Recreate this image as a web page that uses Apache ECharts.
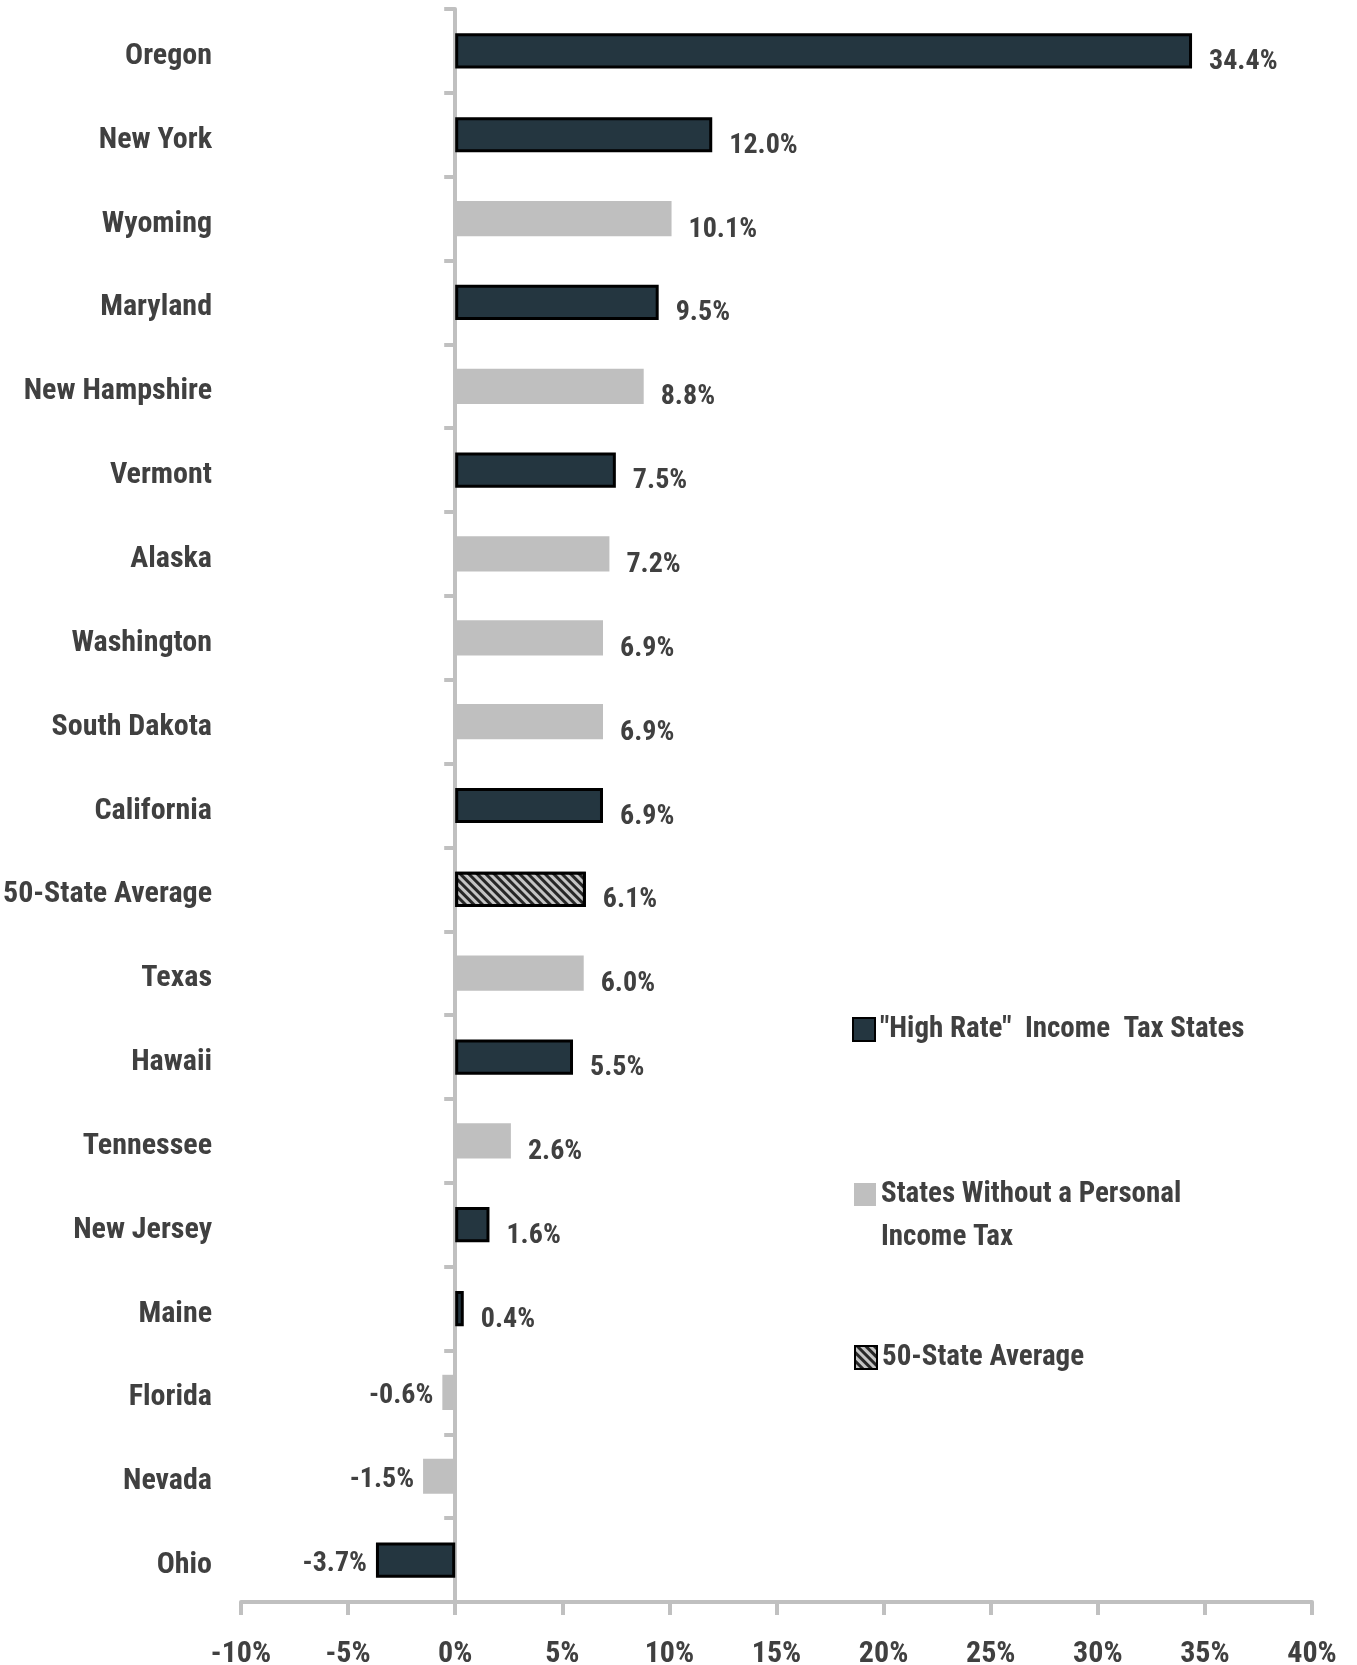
<!DOCTYPE html>
<html>
<head>
<meta charset="utf-8">
<script src="https://cdn.jsdelivr.net/npm/echarts@6/dist/echarts.min.js"></script>
<style>
  html, body { margin: 0; padding: 0; background: #fff; }
  #chart { width: 1357px; height: 1665px; }
</style>
</head>
<body>
<div id="chart"></div>
<script>
// states, top to bottom
const states = ["Oregon", "New York", "Wyoming", "Maryland", "New Hampshire", "Vermont", "Alaska",
  "Washington", "South Dakota", "California", "50-State Average", "Texas", "Hawaii", "Tennessee",
  "New Jersey", "Maine", "Florida", "Nevada", "Ohio"];
const values = [34.4, 12.0, 10.1, 9.5, 8.8, 7.5, 7.2, 6.9, 6.9, 6.9, 6.1, 6.0, 5.5, 2.6, 1.6, 0.4, -0.6, -1.5, -3.7];
// group of each state: h = high rate income tax, n = no income tax, a = average
const groups = ["h", "h", "n", "h", "n", "h", "n", "n", "n", "h", "a", "n", "h", "n", "h", "h", "n", "n", "h"];
const seriesNames = ['"High Rate"  Income  Tax States', "States Without a Personal\nIncome Tax", "50-State Average"];
const xTicks = { min: -10, max: 40, step: 5 };

const FONT = "'Roboto Condensed', 'DejaVu Sans Condensed', 'Noto Sans', sans-serif";
const TXT = "#404040";
const AXIS = "#c0c0c0";

function pick(g) {
  return values.map((v, i) => {
    if (groups[i] !== g) return null;
    if (v < 0) return { value: v, label: { position: "left", distance: 9, offset: [0, 4] } };
    return v;
  });
}

const chart = echarts.init(document.getElementById("chart"));

const labelCfg = {
  show: true,
  position: "right",
  distance: 17,
  offset: [0, 11],
  fontFamily: FONT,
  fontWeight: "bold",
  fontSize: 28,
  color: TXT,
  formatter: (p) => p.value.toFixed(1) + "%",
};

const legendText = { fontFamily: FONT, fontWeight: "bold", fontSize: 29, color: TXT, lineHeight: 43 };
const legendBase = { icon: "rect", itemWidth: 22, itemHeight: 23, itemGap: 0, padding: 0, textStyle: legendText };

chart.setOption({
  animation: false,
  grid: { left: 241, right: 45, top: 9, bottom: 63, outerBoundsMode: "none", containLabel: false },
  legend: [
    Object.assign({}, legendBase, { data: [seriesNames[0]], left: 852, top: 1008 }),
    // blank first line keeps the marker level with the first text line
    Object.assign({}, legendBase, {
      data: [seriesNames[1]], left: 854, top: 1130,
      formatter: (name) => " \n" + name,
    }),
    Object.assign({}, legendBase, { data: [seriesNames[2]], left: 854, top: 1336 }),
  ],
  xAxis: {
    type: "value",
    min: xTicks.min,
    max: xTicks.max,
    interval: xTicks.step,
    axisLine: { show: true, lineStyle: { color: AXIS, width: 4 } },
    axisTick: { show: true, length: 13, lineStyle: { color: AXIS, width: 4 } },
    splitLine: { show: false },
    axisLabel: {
      formatter: "{value}%",
      margin: 37,
      fontFamily: FONT,
      fontWeight: "bold",
      fontSize: 30,
      color: TXT,
    },
  },
  yAxis: [
    {
      // line and ticks sitting on 0%
      type: "category",
      position: "left",
      inverse: true,
      data: states,
      axisLine: { onZero: true, lineStyle: { color: AXIS, width: 4 } },
      axisTick: { show: true, length: 11, lineStyle: { color: AXIS, width: 4 } },
      axisLabel: { show: false },
    },
    {
      // state names at the left edge
      type: "category",
      position: "left",
      inverse: true,
      data: states,
      axisLine: { show: false, onZero: false },
      axisTick: { show: false },
      axisLabel: {
        margin: 29,
        formatter: (v) => "{s|" + v + "}",
        rich: {
          s: {
            padding: [11, 0, 0, 0],
            fontFamily: FONT,
            fontWeight: "bold",
            fontSize: 30,
            color: TXT,
          },
        },
      },
    },
  ],
  series: [
    {
      name: seriesNames[0],
      type: "bar",
      stack: "all",
      barWidth: "42%",
      data: pick("h"),
      itemStyle: { color: "#243640", borderColor: "#000", borderWidth: 3 },
      label: labelCfg,
    },
    {
      name: seriesNames[1],
      type: "bar",
      stack: "all",
      barWidth: "42%",
      data: pick("n"),
      itemStyle: { color: "#bfbfbf" },
      label: labelCfg,
    },
    {
      name: seriesNames[2],
      type: "bar",
      stack: "all",
      barWidth: "42%",
      data: pick("a"),
      itemStyle: {
        color: "#262626",
        borderColor: "#000",
        borderWidth: 3,
        decal: {
          symbol: "rect",
          symbolSize: 1,
          dashArrayX: [1, 0],
          dashArrayY: [3, 3],
          rotation: Math.PI / 4,
          color: "#c4c4c4",
        },
      },
      label: labelCfg,
    },
  ],
});
</script>
</body>
</html>
